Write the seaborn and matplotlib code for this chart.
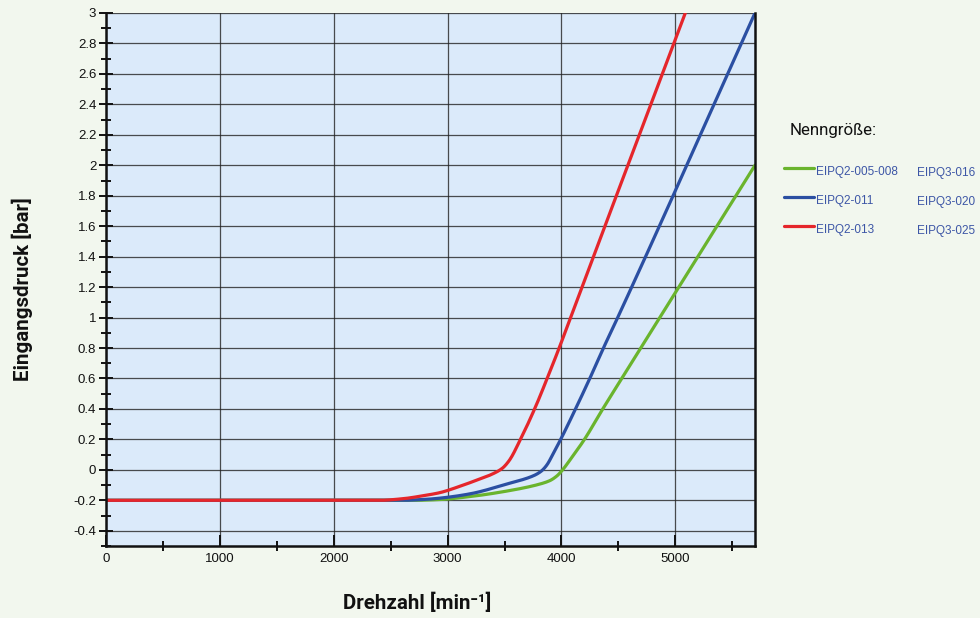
import matplotlib
matplotlib.use("Agg")
import matplotlib.pyplot as plt
from matplotlib.lines import Line2D
from matplotlib.ticker import MultipleLocator, FixedLocator
import numpy as np
import pandas as pd
import seaborn as sns

# Inlet pressure vs. speed for the three nominal sizes
rpm_green = [0, 2700, 2930, 3200, 3515, 3807, 3900, 3960, 4010, 4080, 4202, 4363, 4538, 5700]
bar_green = [-0.2, -0.2, -0.195, -0.175, -0.14, -0.094, -0.07, -0.04, 0.0, 0.07, 0.2, 0.4, 0.61, 2.0]

rpm_blue = [0, 2600, 2800, 2930, 3200, 3515, 3750, 3820, 3870, 3930, 4000, 4130, 4255, 4375, 4494, 5700]
bar_blue = [-0.2, -0.2, -0.194, -0.186, -0.157, -0.094, -0.04, -0.01, 0.03, 0.11, 0.21, 0.41, 0.61, 0.81, 1.0, 3.0]

rpm_red = [0, 2400, 2600, 2800, 2930, 3100, 3222, 3400, 3480, 3540, 3640, 3770, 3885, 3985, 4070, 5088]
bar_red = [-0.2, -0.2, -0.19, -0.168, -0.15, -0.11, -0.077, -0.025, 0.01, 0.06, 0.2, 0.41, 0.62, 0.81, 0.98, 3.0]

series_names = ["EIPQ2-005-008", "EIPQ2-011", "EIPQ2-013"]
series_alt = ["EIPQ3-016", "EIPQ3-020", "EIPQ3-025"]
series_colors = ["#6ab42d", "#2b4fa2", "#e5262b"]

x_ticks = [0, 1000, 2000, 3000, 4000, 5000]
y_ticks = [-0.4, -0.2, 0, 0.2, 0.4, 0.6, 0.8, 1, 1.2, 1.4, 1.6, 1.8, 2, 2.2, 2.4, 2.6, 2.8, 3]


def fmt(v):
    s = f"{v:.1f}".rstrip("0").rstrip(".")
    return "0" if s in ("-0", "0") else s


def smooth(xs, ys, n=800):
    # monotone piecewise cubic (Fritsch–Carlson) through the given points
    x = np.asarray(xs, float)
    y = np.asarray(ys, float)
    h = np.diff(x)
    d = np.diff(y) / h
    m = np.zeros_like(y)
    m[0], m[-1] = d[0], d[-1]
    for i in range(1, len(y) - 1):
        if d[i - 1] * d[i] <= 0:
            m[i] = 0
        else:
            w1 = 2 * h[i] + h[i - 1]
            w2 = h[i] + 2 * h[i - 1]
            m[i] = (w1 + w2) / (w1 / d[i - 1] + w2 / d[i])
    xf = np.linspace(x[0], x[-1], n)
    idx = np.clip(np.searchsorted(x, xf) - 1, 0, len(x) - 2)
    t = (xf - x[idx]) / h[idx]
    h00 = 2 * t**3 - 3 * t**2 + 1
    h10 = t**3 - 2 * t**2 + t
    h01 = -2 * t**3 + 3 * t**2
    h11 = t**3 - t**2
    yf = h00 * y[idx] + h10 * h[idx] * m[idx] + h01 * y[idx + 1] + h11 * h[idx] * m[idx + 1]
    return xf, yf


frames = []
for name, xs, ys in zip(series_names, [rpm_green, rpm_blue, rpm_red],
                        [bar_green, bar_blue, bar_red]):
    xf, yf = smooth(xs, ys)
    frames.append(pd.DataFrame({"Drehzahl": xf, "Druck": yf, "Größe": name}))
df = pd.concat(frames, ignore_index=True)

sns.set_theme(style="white")
plt.rcParams["font.family"] = ["Liberation Sans", "DejaVu Sans"]

fig = plt.figure(figsize=(9.8, 6.18), dpi=100, facecolor="#f2f7ee")
ax = fig.add_axes([0.1082, 0.1165, 0.7704 - 0.1082, 0.979 - 0.1165])
ax.set_facecolor("#dbeafa")

sns.lineplot(data=df, x="Drehzahl", y="Druck", hue="Größe", hue_order=series_names,
             palette=series_colors, linewidth=2.3, legend=False, ax=ax,
             estimator=None, sort=False)

ax.set_xlim(0, 5700)
ax.set_ylim(-0.5, 3.0)

ax.xaxis.set_major_locator(FixedLocator(x_ticks))
ax.xaxis.set_minor_locator(MultipleLocator(500))
ax.yaxis.set_major_locator(FixedLocator(y_ticks))
ax.yaxis.set_minor_locator(MultipleLocator(0.1))
ax.set_xticklabels([str(v) for v in x_ticks])
ax.set_yticklabels([fmt(v) for v in y_ticks])

ax.grid(True, which="major", color="#222222", linewidth=0.9, alpha=0.8)
ax.set_axisbelow(True)

ax.tick_params(axis="both", which="both", left=True, bottom=True)
ax.tick_params(axis="both", which="major", labelsize=9.5, labelcolor="#111111",
               color="#111111", direction="inout", length=10, width=1.4, pad=2)
ax.tick_params(axis="both", which="minor", direction="inout", length=7,
               width=1.4, color="#111111")
ax.tick_params(axis="x", which="major", direction="in", length=8, pad=5)

for side in ("left", "bottom", "right"):
    ax.spines[side].set_visible(True)
    ax.spines[side].set_color("#111111")
    ax.spines[side].set_linewidth(1.8)
ax.spines["top"].set_visible(False)

ax.set_xlabel("Drehzahl [min⁻¹]", fontsize=14.8, fontweight="bold",
              family=["Roboto", "DejaVu Sans"], color="#111111", labelpad=20)
ax.set_ylabel("Eingangsdruck [bar]", fontsize=14.8, fontweight="bold",
              family=["Roboto", "DejaVu Sans"], color="#111111", labelpad=29)
ax.xaxis.label.set_x(0.479)
ax.yaxis.label.set_y(0.482)

# legend block on the right
fig.text(790 / 980, 1 - 130 / 618, "Nenngröße:", fontsize=12.2, color="#111111",
         va="center", ha="left", family=["Roboto", "DejaVu Sans"])
row_y = [168, 197, 226]
for name, alt, col, ry in zip(series_names, series_alt, series_colors, row_y):
    fig.add_artist(Line2D([784 / 980, 814 / 980], [1 - ry / 618] * 2,
                          color=col, linewidth=2.3, transform=fig.transFigure))
    fig.text(816 / 980, 1 - (ry + 4) / 618, name, fontsize=8.5, color="#3d56a6",
             va="center", ha="left")
    fig.text(917 / 980, 1 - (ry + 5) / 618, alt, fontsize=8.5, color="#3d56a6",
             va="center", ha="left")

fig.savefig("out.png", dpi=100, facecolor=fig.get_facecolor())
